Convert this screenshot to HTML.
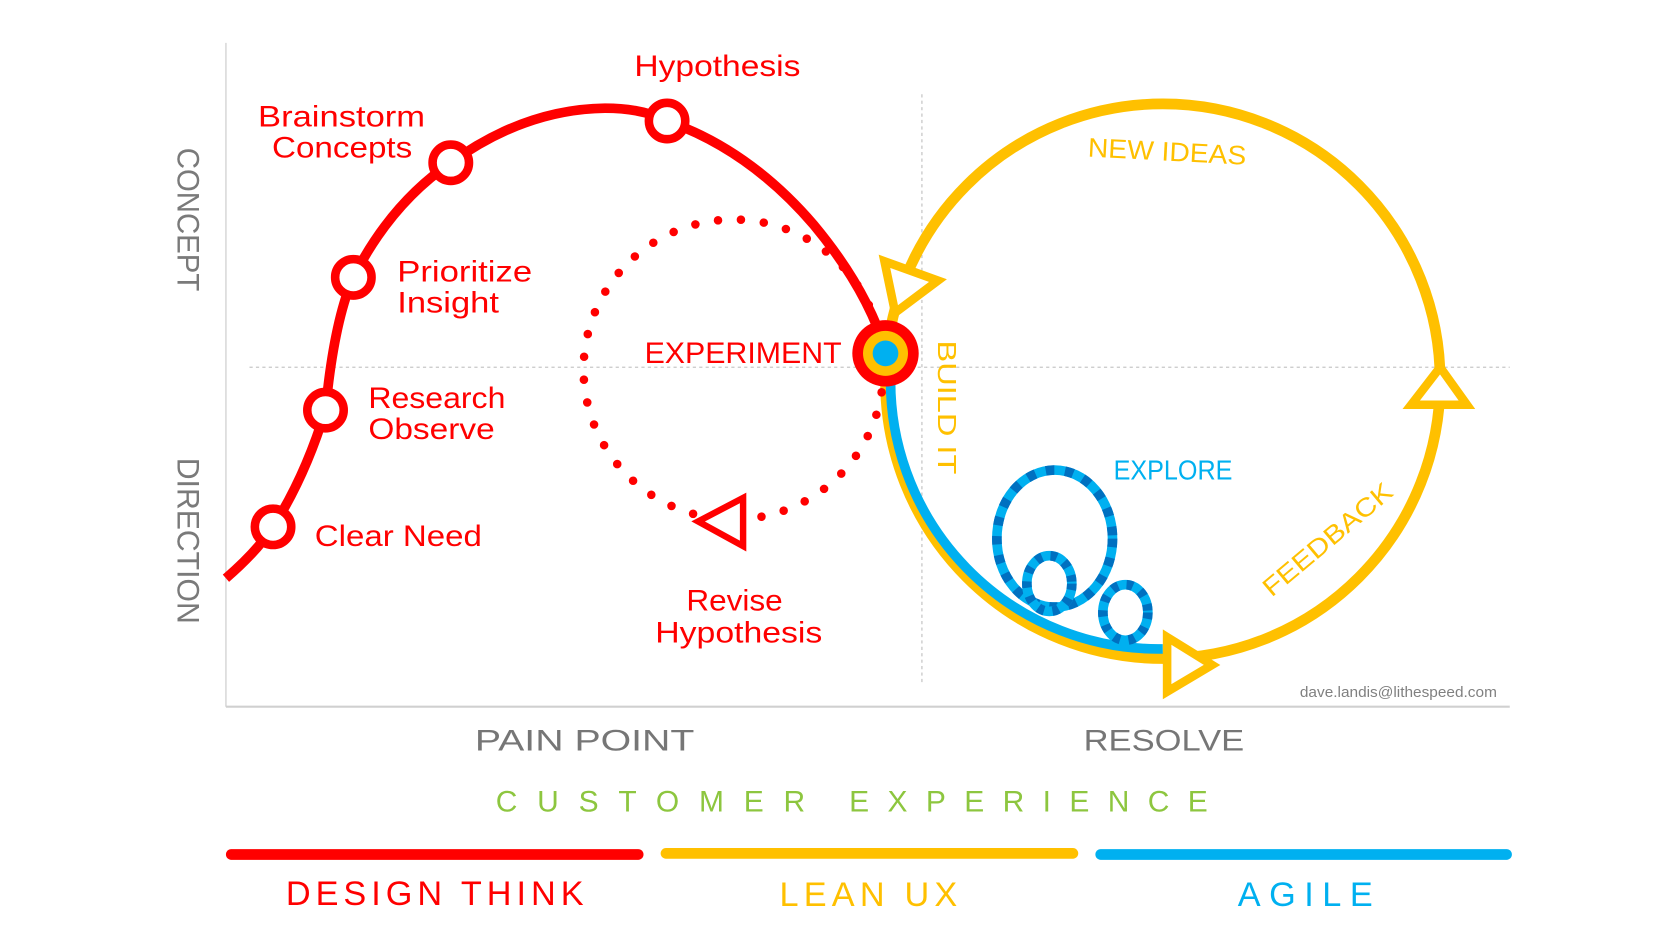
<!DOCTYPE html>
<html><head><meta charset="utf-8"><style>
html,body{margin:0;padding:0;background:#fff;}
svg{display:block;}
text{font-family:"Liberation Sans",sans-serif;}
</style></head><body>
<svg width="1680" height="938" viewBox="0 0 1569 876" xmlns="http://www.w3.org/2000/svg">
<rect width="1569" height="876" fill="#fff"/>
<line x1="211" y1="40" x2="211" y2="660" stroke="#d9d9d9" stroke-width="1.5"/>
<line x1="211" y1="660" x2="1410" y2="660" stroke="#d0d0d0" stroke-width="2"/>
<line x1="233" y1="343" x2="1410" y2="343" stroke="#c8c8c8" stroke-width="1.2" stroke-dasharray="3 3"/>
<line x1="861" y1="88" x2="861" y2="640" stroke="#c8c8c8" stroke-width="1.2" stroke-dasharray="3 3"/>
<text transform="translate(166,205) rotate(90)" text-anchor="middle" font-size="29" fill="#7a7a7a" textLength="134" lengthAdjust="spacingAndGlyphs">CONCEPT</text>
<text transform="translate(166,505) rotate(90)" text-anchor="middle" font-size="29" fill="#7a7a7a" textLength="155" lengthAdjust="spacingAndGlyphs">DIRECTION</text>

<circle cx="1086" cy="356" r="259" fill="none" stroke="#ffc000" stroke-width="10"/>
<path d="M832,345 A250,250 0 0 0 1086,606" fill="none" stroke="#00b0f0" stroke-width="9"/>
<g fill="none" stroke-width="9">
<ellipse cx="985" cy="503" rx="54" ry="64" stroke="#00b0f0"/>
<ellipse cx="985" cy="503" rx="54" ry="64" stroke="#0070c0" stroke-dasharray="8 10"/>
<ellipse cx="980" cy="545" rx="21" ry="26" stroke="#00b0f0"/>
<ellipse cx="980" cy="545" rx="21" ry="26" stroke="#0070c0" stroke-dasharray="6 8"/>
<ellipse cx="1051" cy="572" rx="21" ry="26" stroke="#00b0f0"/>
<ellipse cx="1051" cy="572" rx="21" ry="26" stroke="#0070c0" stroke-dasharray="6 8"/>
</g>
<g fill="#fff" stroke="#ffc000" stroke-width="8" stroke-linejoin="miter">
<polygon points="826,244 876,262 836,292"/>
<polygon points="1345,343 1318,378 1370,378"/>
<polygon points="1090,595 1132,621 1090,646"/>
</g>

<circle cx="685" cy="345" r="140" fill="none" stroke="#ff0000" stroke-width="8" stroke-linecap="round" stroke-dasharray="0 21.5"/>
<polygon points="652,487 694,465 694,510" fill="#fff" stroke="#ff0000" stroke-width="6"/>

<path d="M211,540 Q240,515 255,492 Q285,445 304,383 Q312,300 330,259 Q365,190 421,152 Q490,102 565,101 Q600,101 623,113 Q700,140 760,210 Q810,270 828,330" fill="none" stroke="#ff0000" stroke-width="9"/>
<g fill="#fff" stroke="#ff0000" stroke-width="8">
<circle cx="255" cy="492" r="17"/>
<circle cx="304" cy="383" r="17"/>
<circle cx="330" cy="259" r="17"/>
<circle cx="421" cy="152" r="17"/>
<circle cx="623" cy="113" r="17"/>
</g>
<circle cx="827" cy="330" r="31" fill="#ff0000"/>
<circle cx="827" cy="330" r="21" fill="#ffc000"/>
<circle cx="827" cy="330" r="12" fill="#00b0f0"/>

<g fill="#ff0000" font-size="28">
<text x="670" y="71" text-anchor="middle" textLength="155" lengthAdjust="spacingAndGlyphs">Hypothesis</text>
<text x="241" y="118" textLength="156" lengthAdjust="spacingAndGlyphs">Brainstorm</text>
<text x="254" y="147" textLength="131" lengthAdjust="spacingAndGlyphs">Concepts</text>
<text x="371" y="263" textLength="126" lengthAdjust="spacingAndGlyphs">Prioritize</text>
<text x="371" y="292" textLength="95" lengthAdjust="spacingAndGlyphs">Insight</text>
<text x="344" y="381" textLength="128" lengthAdjust="spacingAndGlyphs">Research</text>
<text x="344" y="410" textLength="118" lengthAdjust="spacingAndGlyphs">Observe</text>
<text x="294" y="510" textLength="156" lengthAdjust="spacingAndGlyphs">Clear Need</text>
<text x="602" y="339" textLength="184" lengthAdjust="spacingAndGlyphs">EXPERIMENT</text>
<text x="686" y="570" text-anchor="middle" textLength="90" lengthAdjust="spacingAndGlyphs">Revise</text>
<text x="690" y="600" text-anchor="middle" textLength="156" lengthAdjust="spacingAndGlyphs">Hypothesis</text>
</g>

<text x="1090" y="150" text-anchor="middle" font-size="25" fill="#ffc000" textLength="148" lengthAdjust="spacingAndGlyphs" transform="rotate(3 1090 142)">NEW IDEAS</text>
<text transform="translate(876,318) rotate(90)" font-size="24" fill="#ffc000" textLength="125" lengthAdjust="spacingAndGlyphs">BUILD IT</text>
<text x="1040" y="448" font-size="26" fill="#00b0f0" textLength="111" lengthAdjust="spacingAndGlyphs">EXPLORE</text>
<text transform="translate(1245,510) rotate(-40)" text-anchor="middle" font-size="24" fill="#ffc000" textLength="150" lengthAdjust="spacingAndGlyphs">FEEDBACK</text>
<text x="1398" y="651" text-anchor="end" font-size="14" fill="#808080" textLength="184" lengthAdjust="spacingAndGlyphs">dave.landis@lithespeed.com</text>

<text x="546" y="701" text-anchor="middle" font-size="28" fill="#767676" textLength="205" lengthAdjust="spacingAndGlyphs">PAIN POINT</text>
<text x="1087" y="701" text-anchor="middle" font-size="28" fill="#767676" textLength="150" lengthAdjust="spacingAndGlyphs">RESOLVE</text>
<text x="463" y="758" font-size="28" fill="#8dc63f" textLength="289" lengthAdjust="spacing">CUSTOMER</text>
<text x="793" y="758" font-size="28" fill="#8dc63f" textLength="335" lengthAdjust="spacing">EXPERIENCE</text>
<g stroke-width="10" stroke-linecap="round">
<line x1="216" y1="798" x2="596" y2="798" stroke="#ff0000"/>
<line x1="622" y1="797" x2="1002" y2="797" stroke="#ffc000"/>
<line x1="1028" y1="798" x2="1407" y2="798" stroke="#00b0f0"/>
</g>
<text x="406" y="845" text-anchor="middle" font-size="32" fill="#ff0000" textLength="278" lengthAdjust="spacing">DESIGN THINK</text>
<text x="811" y="846" text-anchor="middle" font-size="32" fill="#ffc000" textLength="166" lengthAdjust="spacing">LEAN UX</text>
<text x="1219" y="846" text-anchor="middle" font-size="32" fill="#00b0f0" textLength="126" lengthAdjust="spacing">AGILE</text>
</svg>
</body></html>
